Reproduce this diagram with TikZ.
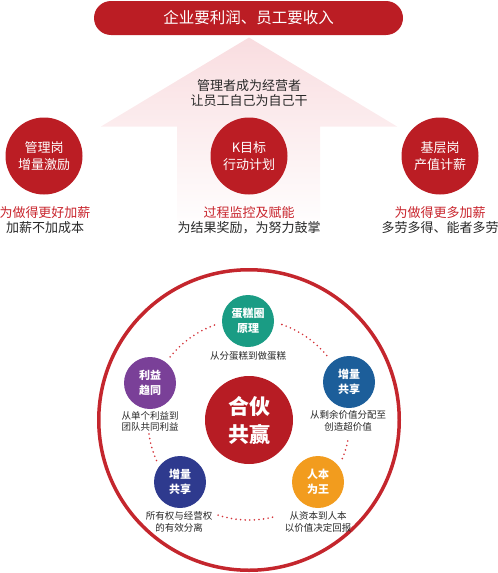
\documentclass[tikz,border=0pt]{standalone}
\usepackage{fontspec}
\setmainfont{Noto Sans CJK SC}
\definecolor{cred}{RGB}{187,29,36}
\definecolor{chub}{RGB}{183,28,36}
\definecolor{cring}{RGB}{196,38,45}
\definecolor{cdot}{RGB}{212,52,58}
\definecolor{ctext}{RGB}{40,40,40}
\definecolor{credtxt}{RGB}{200,36,44}
\definecolor{cpink}{RGB}{249,221,224}
\definecolor{cpinkm}{RGB}{248,214,218}
\definecolor{cgreen}{RGB}{26,156,132}
\definecolor{cpurple}{RGB}{122,64,152}
\definecolor{cblue}{RGB}{28,94,154}
\definecolor{cnavy}{RGB}{46,58,142}
\definecolor{corange}{RGB}{242,156,30}
\begin{document}
\begin{tikzpicture}[x=1pt,y=-1pt,
  every node/.style={inner sep=0pt,outer sep=0pt},
  topcirc/.style={circle,fill=cred,minimum size=77pt,text=white,align=center,font=\fontsize{13}{16.5}\selectfont},
  smallcirc/.style={circle,fill=#1,minimum size=52pt,text=white,align=center,font=\bfseries\fontsize{11}{15}\selectfont},
  captext/.style={align=center,text=ctext,font=\fontsize{9.5}{11.5}\selectfont},
  lbl/.style={align=center,text=ctext,font=\fontsize{13}{15}\selectfont},
  dotline/.style={draw=cdot,line width=1.8pt,line cap=round,dash pattern=on 0pt off 4.6pt}]
\useasboundingbox (0,0) rectangle (498,573);
% banner
\node[fill=cred,rounded corners=17pt,minimum width=309pt,minimum height=34pt,text=white,font=\fontsize{15.5}{18}\selectfont] (banner) at (248.5,18) {企业要利润、员工要收入};
% arrow
\shade[top color=cpink,middle color=cpinkm,bottom color=white]
  (249,37.5) -- (397,126.5) -- (320,126.5) -- (320,232) -- (177,232) -- (177,126.5) -- (101,126.5) -- cycle;
\node[lbl] (mid) at (249,93) {管理者成为经营者\\让员工自己为自己干};
% top circles
\node[topcirc] (c1) at (44,156) {管理岗\\增量激励};
\node[topcirc] (c2) at (249,156) {K目标\\行动计划};
\node[topcirc] (c3) at (440,156) {基层岗\\产值计薪};
\node[lbl] (t1) at (45,220.5) {\textcolor{credtxt}{为做得更好加薪}\\加薪不加成本};
\node[lbl] (t2) at (249,220.5) {\textcolor{credtxt}{过程监控及赋能}\\为结果奖励，为努力鼓掌};
\node[lbl] (t3) at (440,220.5) {\textcolor{credtxt}{为做得更多加薪}\\多劳多得、能者多劳};
% ring
\node[circle,draw=cring,line width=3.5pt,minimum size=300.5pt] (ring) at (249,420) {};
\node[circle,fill=chub,minimum size=88pt,text=white,align=center,font=\bfseries\fontsize{21}{28}\selectfont] (hub) at (249,420) {合伙\\共赢};
% small circles
\node[smallcirc=cgreen] (n1) at (248,321) {蛋糕圈\\原理};
\node[smallcirc=cblue] (n2) at (349,382) {增量\\共享};
\node[smallcirc=corange] (n3) at (318,482) {人本\\为王};
\node[smallcirc=cnavy] (n4) at (180,482) {增量\\共享};
\node[smallcirc=cpurple] (n5) at (150,383) {利益\\趋同};
\node[captext] (s1) at (248,356) {从分蛋糕到做蛋糕};
\node[captext] (s2) at (348,421) {从剩余价值分配至\\创造超价值};
\node[captext] (s3) at (318,522) {从资本到人本\\以价值决定回报};
\node[captext] (s4) at (179,522) {所有权与经营权\\的有效分离};
\node[captext] (s5) at (150,421.5) {从单个利益到\\团队共同利益};
% dotted arcs on a circle round the hub
\draw[dotline] ([shift={(71:101pt)}]hub.center) arc[start angle=71,end angle=38,radius=101pt];
\draw[dotline] ([shift={(110:101pt)}]hub.center) arc[start angle=110,end angle=143,radius=101pt];
\draw[dotline] ([shift={(188:101pt)}]hub.center) arc[start angle=188,end angle=204,radius=101pt];
\draw[dotline] ([shift={(-12:101pt)}]hub.center) arc[start angle=-12,end angle=-23,radius=101pt];
\draw[dotline] ([shift={(252:100pt)}]hub.center) arc[start angle=252,end angle=285,radius=100pt];
\end{tikzpicture}
\end{document}
